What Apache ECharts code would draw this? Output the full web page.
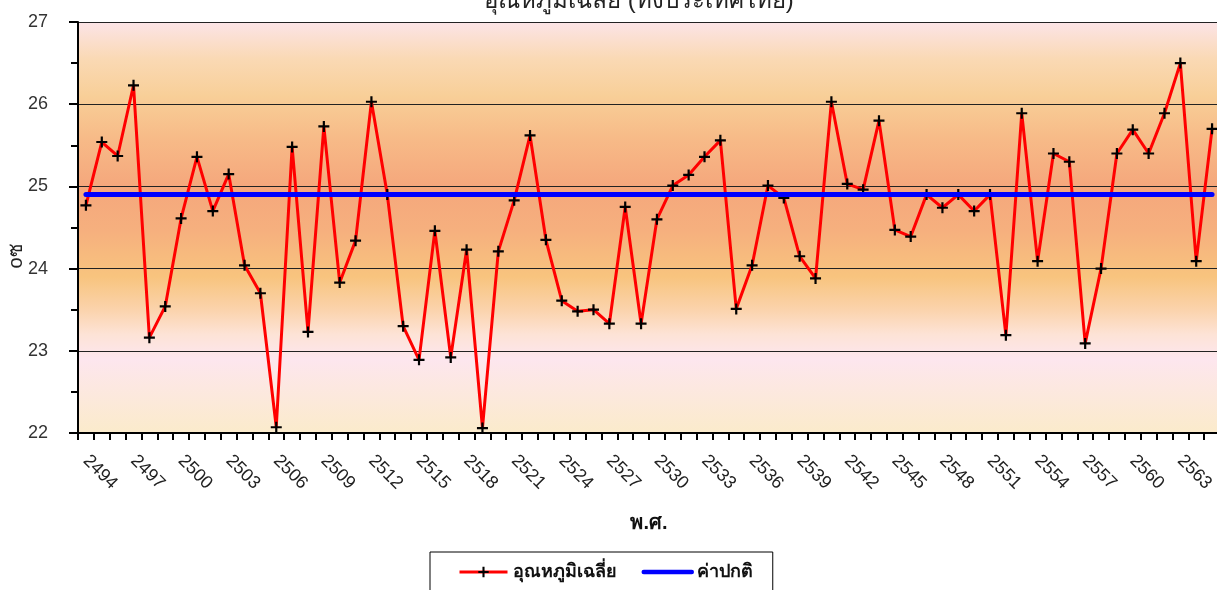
<!DOCTYPE html>
<html>
<head>
<meta charset="utf-8">
<script src="https://cdn.jsdelivr.net/npm/echarts@6/dist/echarts.min.js"></script>
<style>
  html, body { margin: 0; padding: 0; background: #fff; }
  #chart { width: 1217px; height: 590px; }
</style>
</head>
<body>
<div id="chart"></div>
<script>
// พ.ศ. 2494 - 2565
const years = [
  '2494', '2495', '2496', '2497', '2498', '2499', '2500', '2501', '2502', '2503',
  '2504', '2505', '2506', '2507', '2508', '2509', '2510', '2511', '2512', '2513',
  '2514', '2515', '2516', '2517', '2518', '2519', '2520', '2521', '2522', '2523',
  '2524', '2525', '2526', '2527', '2528', '2529', '2530', '2531', '2532', '2533',
  '2534', '2535', '2536', '2537', '2538', '2539', '2540', '2541', '2542', '2543',
  '2544', '2545', '2546', '2547', '2548', '2549', '2550', '2551', '2552', '2553',
  '2554', '2555', '2556', '2557', '2558', '2559', '2560', '2561', '2562', '2563',
  '2564', '2565'
]

// อุณหภูมิเฉลี่ยรายปี (°ซ)
const avgTemp = [
  24.77, 25.54, 25.37, 26.23, 23.16, 23.54, 24.61, 25.36, 24.70, 25.15,
  24.04, 23.70, 22.07, 25.48, 23.23, 25.73, 23.83, 24.34, 26.03, 24.90,
  23.30, 22.89, 24.46, 22.92, 24.23, 22.06, 24.21, 24.83, 25.62, 24.35,
  23.61, 23.48, 23.50, 23.33, 24.75, 23.33, 24.60, 25.01, 25.14, 25.36,
  25.56, 23.51, 24.04, 25.01, 24.86, 24.15, 23.88, 26.03, 25.03, 24.96,
  25.80, 24.47, 24.39, 24.90, 24.74, 24.90, 24.70, 24.90, 23.19, 25.89,
  24.09, 25.40, 25.30, 23.09, 24.00, 25.40, 25.69, 25.40, 25.89, 26.50,
  24.09, 25.70
]

// ค่าปกติ
const normalTemp = [
  24.9, 24.9, 24.9, 24.9, 24.9, 24.9, 24.9, 24.9, 24.9, 24.9,
  24.9, 24.9, 24.9, 24.9, 24.9, 24.9, 24.9, 24.9, 24.9, 24.9,
  24.9, 24.9, 24.9, 24.9, 24.9, 24.9, 24.9, 24.9, 24.9, 24.9,
  24.9, 24.9, 24.9, 24.9, 24.9, 24.9, 24.9, 24.9, 24.9, 24.9,
  24.9, 24.9, 24.9, 24.9, 24.9, 24.9, 24.9, 24.9, 24.9, 24.9,
  24.9, 24.9, 24.9, 24.9, 24.9, 24.9, 24.9, 24.9, 24.9, 24.9,
  24.9, 24.9, 24.9, 24.9, 24.9, 24.9, 24.9, 24.9, 24.9, 24.9,
  24.9, 24.9
]

const yTicks = { min: 22, max: 27, interval: 1 }

const font = '"Liberation Sans", Arial, Tahoma, sans-serif'
const plusMark = 'path://M4,0H6V4H10V6H6V10H4V6H0V4H4Z'

const chart = echarts.init(document.getElementById('chart'), null, { renderer: 'canvas' })

chart.setOption({
  animation: false,
  backgroundColor: '#fff',
  textStyle: { fontFamily: font },
  title: {
    text: 'อุณหภูมิเฉลี่ย (ทั้งประเทศไทย)',
    left: 639,
    textAlign: 'center',
    top: -11,
    padding: 0,
    textStyle: { fontSize: 24, fontWeight: 'normal', color: '#222', fontFamily: font }
  },
  // หน่วยแกน y (°ซ) วางเองเพื่อให้ตรงตำแหน่ง
  graphic: [{
    type: 'text',
    x: 16,
    y: 256,
    rotation: Math.PI / 2,
    style: { text: 'oซ', fontSize: 20, fill: '#222', fontFamily: font, align: 'center', verticalAlign: 'middle' }
  }],
  grid: {
    left: 78,
    top: 22,
    width: 1142,
    height: 411,
    outerBoundsMode: 'none',
    containLabel: false,
    show: true,
    borderWidth: 0,
    backgroundColor: new echarts.graphic.LinearGradient(0, 0, 0, 1, [
      { offset: 0, color: '#fce4e7' },
      { offset: 0.09, color: '#fad9b4' },
      { offset: 0.18, color: '#f8cf98' },
      { offset: 0.28, color: '#f7bb88' },
      { offset: 0.40, color: '#f5a77c' },
      { offset: 0.51, color: '#f6b07e' },
      { offset: 0.62, color: '#f8c47e' },
      { offset: 0.70, color: '#fbd3ac' },
      { offset: 0.76, color: '#fde3d6' },
      { offset: 0.82, color: '#fde6ee' },
      { offset: 1, color: '#fbebcb' }
    ])
  },
  legend: {
    left: 430,
    top: 552,
    padding: [11, 20, 14, 28],
    borderColor: '#000',
    borderWidth: 1,
    backgroundColor: '#fff',
    itemWidth: 48,
    itemHeight: 13,
    itemGap: 25,
    textStyle: { fontSize: 18, fontWeight: 'bold', color: '#111', fontFamily: font },
    data: [
      { name: 'อุณหภูมิเฉลี่ย', lineStyle: { width: 3 } },
      { name: 'ค่าปกติ', lineStyle: { width: 4.5 }, itemStyle: { opacity: 0 } }
    ]
  },
  xAxis: {
    type: 'category',
    data: years,
    boundaryGap: true,
    name: 'พ.ศ.',
    nameLocation: 'middle',
    nameGap: 80,
    nameMoveOverlap: false,
    nameTextStyle: { fontSize: 20, fontWeight: 'bold', color: '#111' },
    axisLine: { lineStyle: { color: '#000', width: 2 } },
    axisTick: { show: true, alignWithLabel: false, interval: 0, length: 7, lineStyle: { color: '#000', width: 2 } },
    axisLabel: { interval: 2, rotate: -45, margin: 25, fontSize: 18, color: '#222' },
    splitLine: { show: false }
  },
  yAxis: {
    type: 'value',
    min: yTicks.min,
    max: yTicks.max,
    interval: yTicks.interval,
    axisLine: { show: true, lineStyle: { color: '#000', width: 2 } },
    axisTick: { show: true, length: 9, lineStyle: { color: '#000', width: 2 } },
    minorTick: { show: true, splitNumber: 2, length: 7, lineStyle: { color: '#000', width: 2 } },
    axisLabel: { margin: 30, fontSize: 18, color: '#333' },
    splitLine: { show: true, lineStyle: { color: '#222', width: 1 } }
  },
  series: [
    {
      name: 'อุณหภูมิเฉลี่ย',
      type: 'line',
      data: avgTemp,
      z: 2,
      symbol: plusMark,
      symbolSize: 11,
      showAllSymbol: true,
      itemStyle: { color: '#000' },
      lineStyle: { color: '#ff0000', width: 3 }
    },
    {
      name: 'ค่าปกติ',
      type: 'line',
      data: normalTemp,
      z: 5,
      symbol: 'none',
      itemStyle: { color: '#0000ff' },
      lineStyle: { color: '#0000ff', width: 5, cap: 'round' }
    }
  ]
})
</script>
</body>
</html>
